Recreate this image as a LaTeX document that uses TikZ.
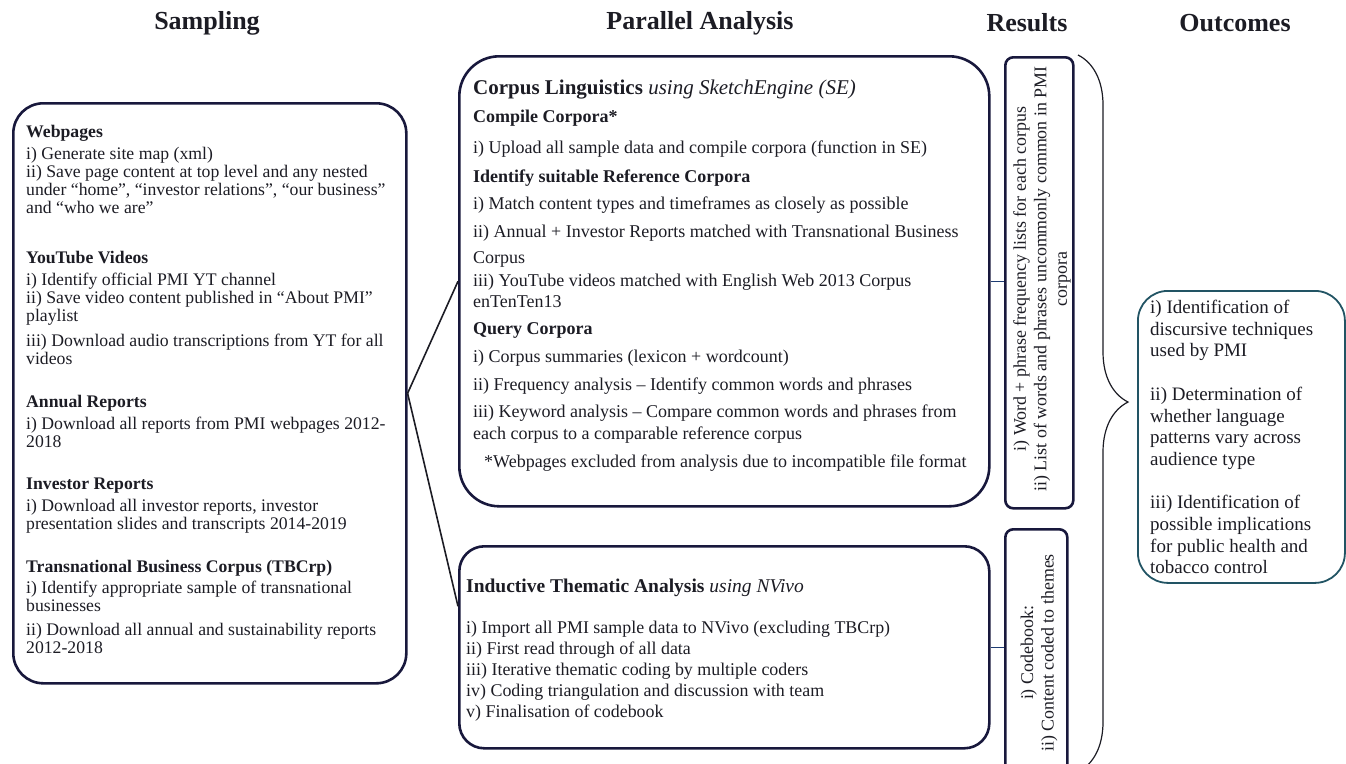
\documentclass[tikz,border=0pt]{standalone}
\usepackage{fontspec}
\setmainfont{Liberation Serif}
\usetikzlibrary{decorations.pathreplacing}
\definecolor{N}{RGB}{24,24,60}
\definecolor{T}{RGB}{34,84,100}
\definecolor{L}{RGB}{30,60,115}
\definecolor{K}{RGB}{28,28,36}

\begin{document}
\begin{tikzpicture}[x=1pt,y=-1pt,
  stage/.style={draw=N, line width=2.6pt, inner sep=0pt, anchor=north west},
  heading/.style={font=\fontsize{26}{30}\selectfont\bfseries, text=K},
  body/.style={align=left, inner sep=0pt, anchor=north west, text=K, font=\fontsize{17.5}{18}\selectfont},
  result/.style={rotate=90, align=center, inner sep=0pt, text=K, font=\fontsize{17.9}{20.5}\selectfont},
  link/.style={line width=1.6pt, K}]
  \useasboundingbox (0,0) rectangle (1346,763);

  %# HEADINGS
  \node[heading] (hsamp) at (207,23) {Sampling};
  \node[heading] (hpar) at (700,23) {Parallel Analysis};
  \node[heading] (hres) at (1027,23) {Results};
  \node[heading] (hout) at (1235,23) {Outcomes};

  %# SAMPLING
  \node[stage, rounded corners=30pt, minimum width=393pt, minimum height=580pt] (samp) at (12,102) {};
  \node[body, font=\fontsize{17.7}{18}\selectfont] (samptext) at (26,125) {\textbf{Webpages}\\[4pt]
    i) Generate site map (xml)\\
    ii) Save page content at top level and any nested\\
    under “home”, “investor relations”, “our business”\\
    and “who we are”\\[32pt]
    \textbf{YouTube Videos}\\[4pt]
    i) Identify official PMI YT channel\\
    ii) Save video content published in “About PMI”\\
    playlist\\[7pt]
    iii) Download audio transcriptions from YT for all\\
    videos\\[25pt]
    \textbf{Annual Reports}\\[4pt]
    i) Download all reports from PMI webpages 2012-\\
    2018\\[24pt]
    \textbf{Investor Reports}\\[4pt]
    i) Download all investor reports, investor\\
    presentation slides and transcripts 2014-2019\\[25pt]
    \textbf{Transnational Business Corpus (TBCrp)}\\[3pt]
    i) Identify appropriate sample of transnational\\
    businesses\\[6pt]
    ii) Download all annual and sustainability reports\\
    2012-2018};

  %# CORPUS LINGUISTICS
  \node[stage, rounded corners=40pt, minimum width=530pt, minimum height=450pt] (corpus) at (458,55) {};
  \node[body, font=\fontsize{18}{22}\selectfont] (corptext) at (473,80) {{\fontsize{21}{22}\selectfont\textbf{Corpus Linguistics} \textit{using SketchEngine (SE)}}\\[6pt]
    \textbf{Compile Corpora*}\\[9pt]
    i) Upload all sample data and compile corpora (function in SE)\\[7pt]
    \textbf{Identify suitable Reference Corpora}\\[5pt]
    i) Match content types and timeframes as closely as possible\\[6pt]
    ii) Annual + Investor Reports matched with Transnational Business\\[4pt]
    Corpus\\[1pt]
    iii) YouTube videos matched with English Web 2013 Corpus\\[-1pt]
    enTenTen13\\[5pt]
    \textbf{Query Corpora}\\[6pt]
    i) Corpus summaries (lexicon + wordcount)\\[6pt]
    ii) Frequency analysis – Identify common words and phrases\\[5pt]
    iii) Keyword analysis – Compare common words and phrases from\\
    each corpus to a comparable reference corpus\\[6pt]
    \hspace*{11pt}*Webpages excluded from analysis due to incompatible file format};

  %# NVIVO
  \node[stage, rounded corners=25pt, minimum width=530pt, minimum height=202pt] (nvivo) at (458,545) {};
  \node[body, font=\fontsize{17.9}{21}\selectfont] (nvtext) at (466,579) {{\fontsize{19.5}{22}\selectfont\textbf{Inductive Thematic Analysis} \textit{using NVivo}}\\[20pt]
    i) Import all PMI sample data to NVivo (excluding TBCrp)\\
    ii) First read through of all data\\
    iii) Iterative thematic coding by multiple coders\\
    iv) Coding triangulation and discussion with team\\
    v) Finalisation of codebook};

  %# RESULTS
  \node[stage, rounded corners=8pt, minimum width=68pt, minimum height=451pt] (res1) at (1004,56) {};
  \node[result] (r1text) at (1042,279) {i) Word + phrase frequency lists for each corpus\\
    ii) List of words and phrases uncommonly common in PMI\\
    corpora};
  \node[stage, rounded corners=8pt, minimum width=62pt, minimum height=247pt] (res2) at (1004,528) {};
  \node[result] (r2text) at (1039,653) {i) Codebook:\\ ii) Content coded to themes};

  %# OUTCOMES
  \draw[K, line width=1.2pt, decorate, decoration={brace, amplitude=50pt, aspect=0.484}] (1078,55) -- (1078,772);
  \node[stage, draw=T, line width=1.8pt, rounded corners=30pt, minimum width=207pt, minimum height=292pt] (outc) at (1137,290) {};
  \node[body, font=\fontsize{19}{21.7}\selectfont] (outtext) at (1150,300) {i) Identification of\\
    discursive techniques\\
    used by PMI\\[21.7pt]
    ii) Determination of\\
    whether language\\
    patterns vary across\\
    audience type\\[21.7pt]
    iii) Identification of\\
    possible implications\\
    for public health and\\
    tobacco control};

  %# LINKS
  \draw[link] (samp.east) -- (corpus.west);
  \draw[link] (samp.east) -- ([yshift=41pt]nvivo.west);
  \draw[link, L] (corpus.east) -- (corpus.east -| res1.west);
  \draw[link, L] (nvivo.east) -- (nvivo.east -| res2.west);
\end{tikzpicture}
\end{document}
